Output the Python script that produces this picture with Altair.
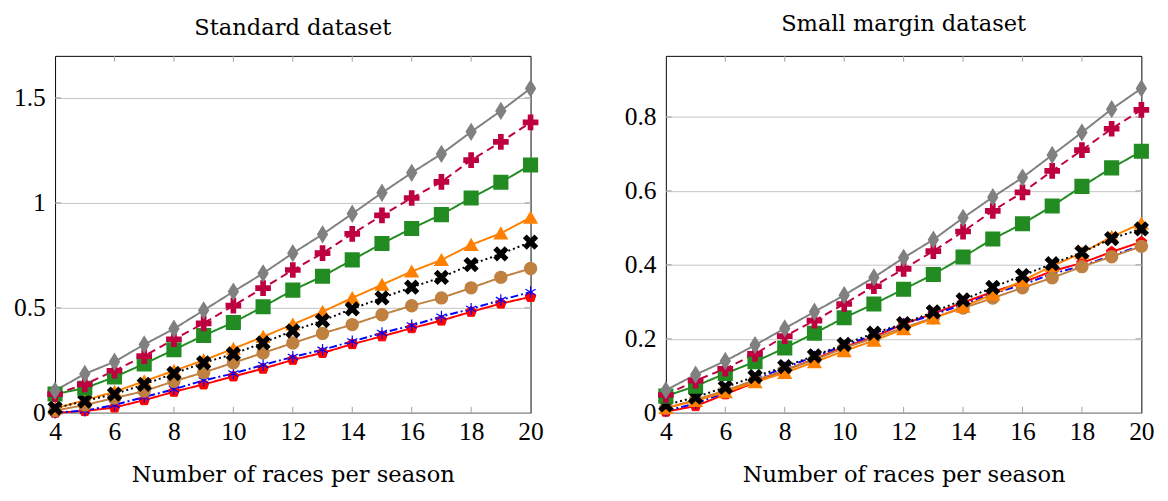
import altair as alt
import pandas as pd

races = list(range(4, 21))
x_ticks = [4, 6, 8, 10, 12, 14, 16, 18, 20]

series = ["red", "blue", "brown", "orange", "black", "green", "crimson", "gray"]
colors = ["#ff0000", "#0000ff", "#bf8040", "#ff8000", "#000000", "#228b22", "#bf0040", "#808080"]
dashes = [[1, 0], [8, 3, 2, 3], [1, 0], [1, 0], [2, 3], [1, 0], [8, 5], [1, 0]]

# Standard dataset
gray_std = [0.105, 0.185, 0.243, 0.325, 0.40, 0.488, 0.577, 0.664, 0.76, 0.85, 0.948, 1.048, 1.143, 1.233, 1.338, 1.438, 1.545]
crimson_std = [0.089, 0.135, 0.20, 0.27, 0.35, 0.426, 0.51, 0.594, 0.68, 0.76, 0.852, 0.94, 1.023, 1.10, 1.203, 1.29, 1.383]
green_std = [0.089, 0.117, 0.17, 0.233, 0.30, 0.368, 0.43, 0.505, 0.584, 0.65, 0.728, 0.806, 0.878, 0.944, 1.023, 1.098, 1.18]
orange_std = [0.02, 0.06, 0.10, 0.15, 0.20, 0.25, 0.305, 0.362, 0.421, 0.481, 0.547, 0.61, 0.673, 0.728, 0.80, 0.855, 0.93]
black_std = [0.022, 0.056, 0.089, 0.135, 0.187, 0.238, 0.28, 0.333, 0.39, 0.439, 0.495, 0.547, 0.598, 0.645, 0.706, 0.757, 0.813]
brown_std = [0.01, 0.037, 0.07, 0.103, 0.15, 0.192, 0.238, 0.285, 0.332, 0.378, 0.42, 0.467, 0.51, 0.547, 0.595, 0.645, 0.687]
blue_std = [0.0, 0.01, 0.037, 0.075, 0.112, 0.154, 0.187, 0.228, 0.266, 0.30, 0.34, 0.38, 0.416, 0.458, 0.495, 0.537, 0.575]
red_std = [0.0, 0.008, 0.025, 0.06, 0.10, 0.135, 0.173, 0.21, 0.252, 0.285, 0.327, 0.364, 0.403, 0.439, 0.481, 0.52, 0.552]

# Small margin dataset
gray_sm = [0.061, 0.103, 0.14, 0.183, 0.228, 0.273, 0.318, 0.366, 0.419, 0.468, 0.527, 0.583, 0.636, 0.697, 0.758, 0.821, 0.877]
crimson_sm = [0.048, 0.087, 0.119, 0.159, 0.207, 0.249, 0.294, 0.342, 0.389, 0.437, 0.49, 0.546, 0.596, 0.654, 0.71, 0.768, 0.819]
green_sm = [0.045, 0.072, 0.106, 0.138, 0.175, 0.215, 0.257, 0.294, 0.334, 0.374, 0.421, 0.47, 0.511, 0.559, 0.612, 0.662, 0.707]
orange_sm = [0.013, 0.032, 0.056, 0.083, 0.108, 0.137, 0.167, 0.195, 0.226, 0.255, 0.287, 0.32, 0.357, 0.397, 0.432, 0.476, 0.512]
black_sm = [0.021, 0.042, 0.069, 0.098, 0.125, 0.154, 0.185, 0.215, 0.241, 0.273, 0.305, 0.339, 0.371, 0.403, 0.434, 0.471, 0.497]
brown_sm = [0.012, 0.035, 0.06, 0.088, 0.115, 0.143, 0.175, 0.202, 0.23, 0.257, 0.283, 0.31, 0.338, 0.365, 0.395, 0.422, 0.45]
blue_sm = [0.005, 0.025, 0.055, 0.09, 0.122, 0.152, 0.182, 0.21, 0.24, 0.265, 0.293, 0.322, 0.346, 0.376, 0.397, 0.425, 0.452]
red_sm = [0.003, 0.018, 0.05, 0.082, 0.115, 0.145, 0.178, 0.205, 0.24, 0.268, 0.298, 0.327, 0.352, 0.383, 0.405, 0.435, 0.462]

std_vals = [red_std, blue_std, brown_std, orange_std, black_std, green_std, crimson_std, gray_std]
sm_vals = [red_sm, blue_sm, brown_sm, orange_sm, black_sm, green_sm, crimson_sm, gray_sm]

PENT = "M0,-1L0.951,-0.309L0.588,0.809L-0.588,0.809L-0.951,-0.309Z"
AST = "M0,-1L0,1M-0.866,-0.5L0.866,0.5M-0.866,0.5L0.866,-0.5"
k = 0.4
XS = (f"M-1,{-1 + k}L{-1 + k},-1L0,{-k}L{1 - k},-1L1,{-1 + k}L{k},0L1,{1 - k}"
      f"L{1 - k},1L0,{k}L{-1 + k},1L-1,{1 - k}L{-k},0Z")
w = 0.26
PLUS = (f"M{-w},-1L{w},-1L{w},{-w}L1,{-w}L1,{w}L{w},{w}L{w},1L{-w},1"
        f"L{-w},{w}L-1,{w}L-1,{-w}L{-w},{-w}Z")
DIAM = "M0,-1L0.62,0L0,1L-0.62,0Z"
shapes = [PENT, AST, "circle", "triangle-up", XS, "square", PLUS, DIAM]
sizes = [130, 200, 140, 130, 130, 120, 140, 170]
swidths = [1, 2.4, 1, 1, 1, 1, 1, 1]

LFONT = "Liberation Serif"
TFONT = "DejaVu Serif"
W, H = 485, 364


def panel(title, vals, ymax, yticks, dy):
    rows = []
    for name, ys in zip(series, vals):
        for x, y in zip(races, ys):
            rows.append({"x": x, "y": y, "s": name})
    df = pd.DataFrame(rows)
    xsc = alt.Scale(domain=[4, 20], nice=False, zero=False)
    ysc = alt.Scale(domain=[0, ymax], nice=False, zero=False)
    xenc = alt.X("x:Q", scale=xsc, axis=alt.Axis(
        values=x_ticks, title="Number of races per season", grid=False, ticks=False,
        tickSize=0, domain=False, labelPadding=6, titlePadding=20,
        labelFlush=False))
    yenc = alt.Y("y:Q", scale=ysc, axis=alt.Axis(
        values=yticks, format="~g", title=None, grid=True, gridColor="#c4c4c4",
        gridWidth=1, ticks=False, tickSize=0, domain=False, labelPadding=10,
        minExtent=40, maxExtent=40, labelFlush=False))
    cscale = alt.Scale(domain=series, range=colors)
    lines = alt.Chart(df).mark_line(strokeWidth=2).encode(
        x=xenc, y=yenc,
        color=alt.Color("s:N", scale=cscale, legend=None),
        strokeDash=alt.StrokeDash("s:N", scale=alt.Scale(domain=series, range=dashes), legend=None),
    )
    pts = alt.Chart(df).mark_point(filled=True, opacity=1).encode(
        x="x:Q", y="y:Q",
        fill=alt.Fill("s:N", scale=cscale, legend=None),
        stroke=alt.Stroke("s:N", scale=cscale, legend=None),
        shape=alt.Shape("s:N", scale=alt.Scale(domain=series, range=shapes), legend=None),
        size=alt.Size("s:N", scale=alt.Scale(domain=series, range=sizes), legend=None),
        strokeWidth=alt.StrokeWidth("s:N", scale=alt.Scale(domain=series, range=swidths), legend=None),
    )
    tdf = pd.DataFrame({"x": x_ticks[1:-1]})
    xt_bot = alt.Chart(tdf).mark_rule(color="#a0a0a0", strokeWidth=1).encode(
        x="x:Q", y=alt.value(H), y2=alt.value(H - 6))
    xt_top = alt.Chart(tdf).mark_rule(color="#a0a0a0", strokeWidth=1).encode(
        x="x:Q", y=alt.value(0), y2=alt.value(6))
    ydf = pd.DataFrame({"y": yticks[1:]})
    yt_l = alt.Chart(ydf).mark_rule(color="#a0a0a0", strokeWidth=1).encode(
        y="y:Q", x=alt.value(0), x2=alt.value(6))
    yt_r = alt.Chart(ydf).mark_rule(color="#a0a0a0", strokeWidth=1).encode(
        y="y:Q", x=alt.value(W - 6), x2=alt.value(W))
    return alt.layer(lines, xt_bot, xt_top, yt_l, yt_r, pts).properties(
        width=W, height=H,
        title=alt.TitleParams(title, font=TFONT, fontSize=23, fontWeight="normal",
                              color="#000", offset=16, dy=dy),
    )


left = panel("Standard dataset", std_vals, 1.70, [0, 0.5, 1, 1.5], 0)
right = panel("Small margin dataset", sm_vals, 0.965, [0, 0.2, 0.4, 0.6, 0.8], -4)

chart = alt.hconcat(left, right, spacing=81).properties(
    padding={"left": 5, "right": 5, "top": 0, "bottom": 0}
).configure(
    background="white"
).configure_view(
    stroke="#000", strokeWidth=1
).configure_axis(
    labelFont=LFONT, labelFontSize=26, labelColor="#000",
    titleFont=TFONT, titleFontSize=23, titleColor="#000", titleFontWeight="normal",
)

chart.save("out.html", embed_options={"renderer": "svg", "actions": False})
